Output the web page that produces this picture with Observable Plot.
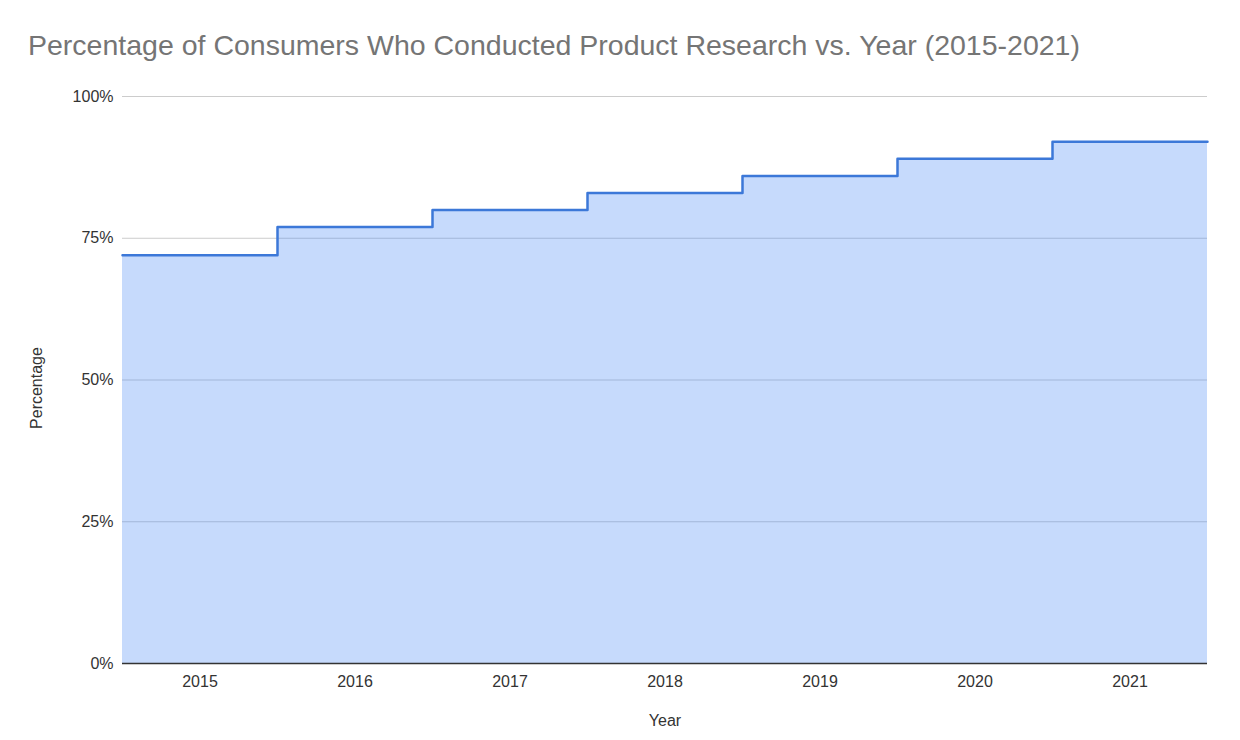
<!DOCTYPE html>
<html>
<head>
<meta charset="utf-8">
<script src="https://cdn.jsdelivr.net/npm/d3@7"></script>
<script src="https://cdn.jsdelivr.net/npm/@observablehq/plot@0.6"></script>
<style>
  html, body { margin: 0; padding: 0; background: #fff; }
  #wrap { position: relative; width: 1240px; height: 740px; }
  #title { position: absolute; left: 28px; top: 29px; font-family: "Liberation Sans", Arial, sans-serif; font-size: 28.5px; color: #757575; white-space: nowrap; }
</style>
</head>
<body>
<div id="wrap">
  <div id="title">Percentage of Consumers Who Conducted Product Research vs. Year (2015-2021)</div>
  <div id="chart"></div>
</div>
<script>
const years = [2015, 2016, 2017, 2018, 2019, 2020, 2021];
const percentages = [72, 77, 80, 83, 86, 89, 92];
const yTicks = [0, 25, 50, 75, 100];

// step data: each year spans a band of width 1 centered on the year
const steps = years.map((yr, i) => ({x: yr - 0.5, v: percentages[i]}));
steps.push({x: years[years.length - 1] + 0.5, v: percentages[percentages.length - 1]});

const font = "Liberation Sans, Arial, sans-serif";

const chart = Plot.plot({
  width: 1240,
  height: 740,
  marginLeft: 122,
  marginRight: 33,
  marginTop: 96,
  marginBottom: 77,
  style: {fontFamily: font, fontSize: "16px", color: "#444", background: "transparent"},
  x: {domain: [years[0] - 0.5, years[years.length - 1] + 0.5]},
  y: {domain: [0, 100]},
  marks: [
    Plot.gridY(yTicks, {stroke: "#cccccc", strokeOpacity: 1, strokeWidth: 1}),
    Plot.areaY(steps, {x: "x", y: "v", curve: "step-after", fill: "#4285f4", fillOpacity: 0.3}),
    Plot.lineY(steps, {x: "x", y: "v", curve: "step-after", stroke: "#3c78d8", strokeWidth: 2.5}),
    Plot.ruleY([0], {stroke: "#333", strokeWidth: 1.5}),
    Plot.axisX(years, {tickSize: 0, tickPadding: 12, tickFormat: d => String(d), label: null, fill: "#333", fontSize: 16}),
    Plot.axisY(yTicks, {tickSize: 0, tickPadding: 9, tickFormat: d => d + "%", label: null, fill: "#333", fontSize: 16}),
    Plot.text(["Year"], {frameAnchor: "bottom", dy: 62, text: d => d, fill: "#333", fontSize: 16}),
    Plot.text(["Percentage"], {frameAnchor: "left", textAnchor: "middle", dx: -86, dy: 8, rotate: -90, text: d => d, fill: "#333", fontSize: 16})
  ]
});
document.getElementById("chart").appendChild(chart);
</script>
</body>
</html>
